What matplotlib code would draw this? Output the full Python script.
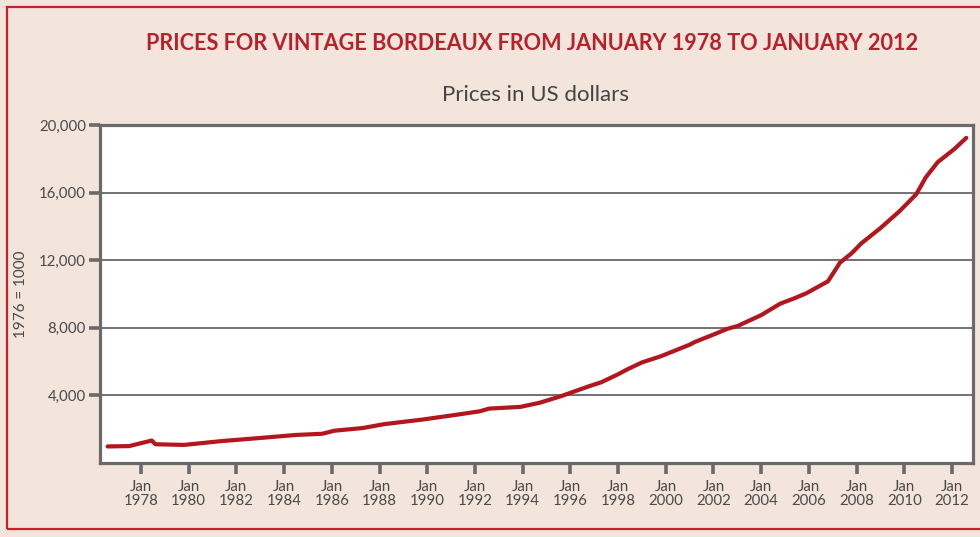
import matplotlib
matplotlib.use("Agg")
import matplotlib.pyplot as plt
from matplotlib.patches import Rectangle

# Index values (1976 = 1000)
years = [1976.6, 1977.5, 1978.45, 1978.6, 1979.8, 1981.4, 1982.9, 1984.5, 1985.6,
         1986.1, 1987.3, 1988.2, 1989.8, 1991.3, 1992.2, 1992.6, 1993.9, 1994.7,
         1995.6, 1996.8, 1997.3, 1998.0, 1998.4, 1999.0, 1999.8, 2001.0, 2001.2,
         2002.0, 2002.6, 2003.0, 2004.0, 2004.8, 2005.4, 2005.9, 2006.8, 2007.3,
         2007.8, 2008.2, 2009.0, 2009.8, 2010.5, 2010.9, 2011.4, 2012.1, 2012.6]
prices = [980, 1000, 1330, 1110, 1070, 1300, 1470, 1660, 1730,
          1910, 2070, 2300, 2570, 2870, 3060, 3220, 3320, 3560,
          3950, 4550, 4780, 5250, 5550, 5950, 6320, 7000, 7150,
          7600, 7950, 8100, 8750, 9430, 9750, 10050, 10750, 11850,
          12420, 13000, 13900, 14900, 15900, 16900, 17800, 18580, 19240]

tick_years = list(range(1978, 2013, 2))
tick_labels = ["Jan\n%d" % y for y in tick_years]
y_ticks = [4000, 8000, 12000, 16000, 20000]
y_labels = ["4,000", "8,000", "12,000", "16,000", "20,000"]

plt.rcParams['font.family'] = ['Lato', 'DejaVu Sans']

bg = '#f3e5db'
grey = '#6a6a6a'
red = '#b3161d'

fig = plt.figure(figsize=(9.8, 5.37), dpi=100, facecolor=bg)

# red frame around the panel
fig.patches.append(Rectangle((7 / 980, 1 - 529 / 537), 1.0, (529 - 7) / 537,
                             transform=fig.transFigure, fill=False,
                             edgecolor='#c8202a', linewidth=1.6))

ax = fig.add_axes([100 / 980, 1 - 463 / 537, 873 / 980, 338 / 537])
ax.set_facecolor('white')

ax.plot(years, prices, color=red, linewidth=3.0, solid_capstyle='round')

ax.set_xlim(1976.28, 2012.88)
ax.set_ylim(0, 20000)

ax.set_yticks(y_ticks)
ax.set_yticklabels(y_labels)
ax.set_xticks(tick_years)
ax.set_xticklabels(tick_labels, linespacing=1.05)

for y in y_ticks[:-1]:
    ax.axhline(y, color='#727272', linewidth=1.4, zorder=1)

for s in ax.spines.values():
    s.set_color(grey)
    s.set_linewidth(2.3)

ax.tick_params(axis='both', direction='out', length=8, width=2.6, color=grey,
               labelsize=10.8, labelcolor='#4a4a4a')
ax.tick_params(axis='x', pad=4)
ax.tick_params(axis='y', pad=2)

ax.set_ylabel("1976 = 1000", fontsize=11, color='#4a4a4a')
ax.yaxis.set_label_coords(-0.082, 0.5)

fig.text(532 / 980, 1 - 44 / 537,
         "PRICES FOR VINTAGE BORDEAUX FROM JANUARY 1978 TO JANUARY 2012",
         ha='center', va='center', fontsize=15.6, fontweight='bold', color='#b8202a')
fig.text(535 / 980, 1 - 95 / 537, "Prices in US dollars",
         ha='center', va='center', fontsize=16, color='#444444')

fig.savefig("out.png", dpi=100, facecolor=bg)
